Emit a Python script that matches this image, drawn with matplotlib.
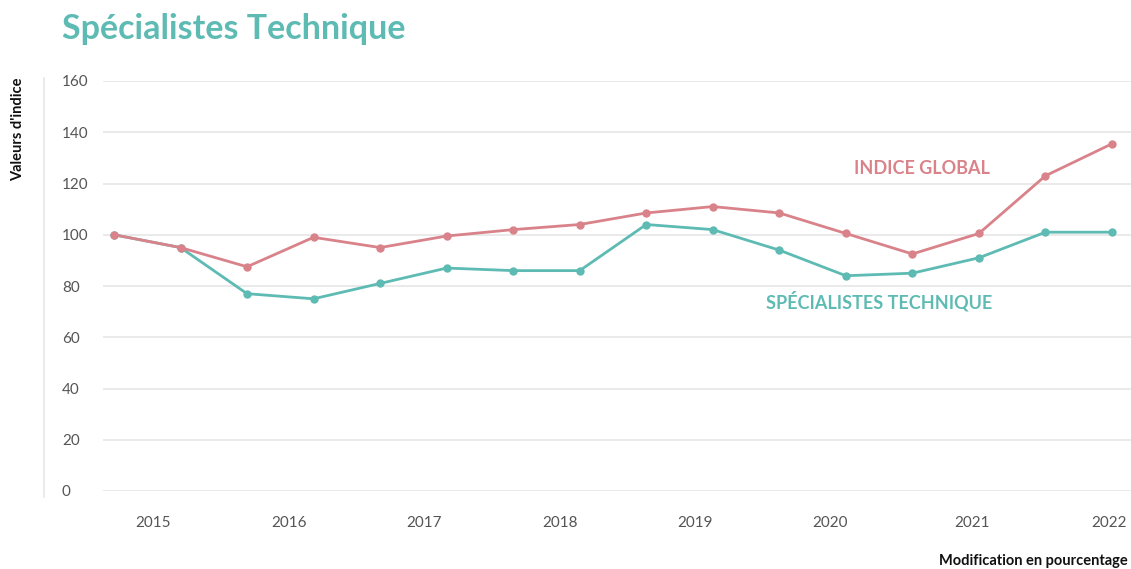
import matplotlib.pyplot as plt
from matplotlib.lines import Line2D

# data (half-year points, 2015 -> 2022)
points = list(range(16))
indice_global = [100, 95, 87.5, 99, 95, 99.5, 102, 104, 108.5, 111, 108.5, 100.5, 92.5, 100.5, 123, 135.5]
specialistes = [100, 95, 77, 75, 81, 87, 86, 86, 104, 102, 94, 84, 85, 91, 101, 101]
years = ['2015', '2016', '2017', '2018', '2019', '2020', '2021', '2022']
year_pos = [0.59, 2.63, 4.66, 6.70, 8.73, 10.77, 12.90, 14.95]
y_ticks = [0, 20, 40, 60, 80, 100, 120, 140, 160]

red = '#D9828A'
teal = '#5DBBB3'

plt.rcParams['font.family'] = ['Lato', 'DejaVu Sans']

fig = plt.figure(figsize=(11.31, 5.69), dpi=100)
ax = fig.add_axes([103 / 1131, 1 - 491 / 569, 1 - 103 / 1131, (491 - 81) / 569])

ax.plot(points, specialistes, color=teal, lw=2, marker='o', ms=5, zorder=3)
ax.plot(points, indice_global, color=red, lw=2, marker='o', ms=5, zorder=4)

ax.set_ylim(0, 160)
ax.set_xlim(-0.165, 15.286)
ax.set_yticks(y_ticks)
ax.set_xticks(year_pos)
ax.set_xticklabels(years)
ax.grid(axis='y', color='#e6e6e6', lw=1.2)
ax.set_axisbelow(True)
for s in ax.spines.values():
    s.set_visible(False)
ax.tick_params(length=0, labelsize=11, labelcolor='#555555')
ax.tick_params(axis='y', pad=0)
ax.tick_params(axis='x', pad=18)
for lab in ax.get_yticklabels():
    lab.set_horizontalalignment('left')
    lab.set_x(-0.04)

ax.text(12.15, 125.7, 'INDICE GLOBAL', color=red, fontsize=13, fontweight='bold',
        ha='center', va='center')
ax.text(11.5, 74.1, 'SPÉCIALISTES TECHNIQUE', color=teal, fontsize=13, fontweight='bold',
        ha='center', va='center')

fig.text(62 / 1131, 1 - 29 / 569, 'Spécialistes Technique', color=teal, fontsize=24.5,
         fontweight='bold', ha='left', va='center')
fig.text(18 / 1131, 1 - 129 / 569, "Valeurs d'indice", rotation=90, fontsize=10.5,
         fontweight='bold', ha='center', va='center', color='#111111')
fig.text(1128 / 1131, 1 - 561 / 569, 'Modification en pourcentage', fontsize=10.5,
         fontweight='bold', ha='right', va='center', color='#111111')
fig.add_artist(Line2D([44 / 1131, 44 / 1131], [1 - 78 / 569, 1 - 497 / 569],
                      color='#e6e6e6', lw=1.2))

fig.savefig('out.png', dpi=100)
